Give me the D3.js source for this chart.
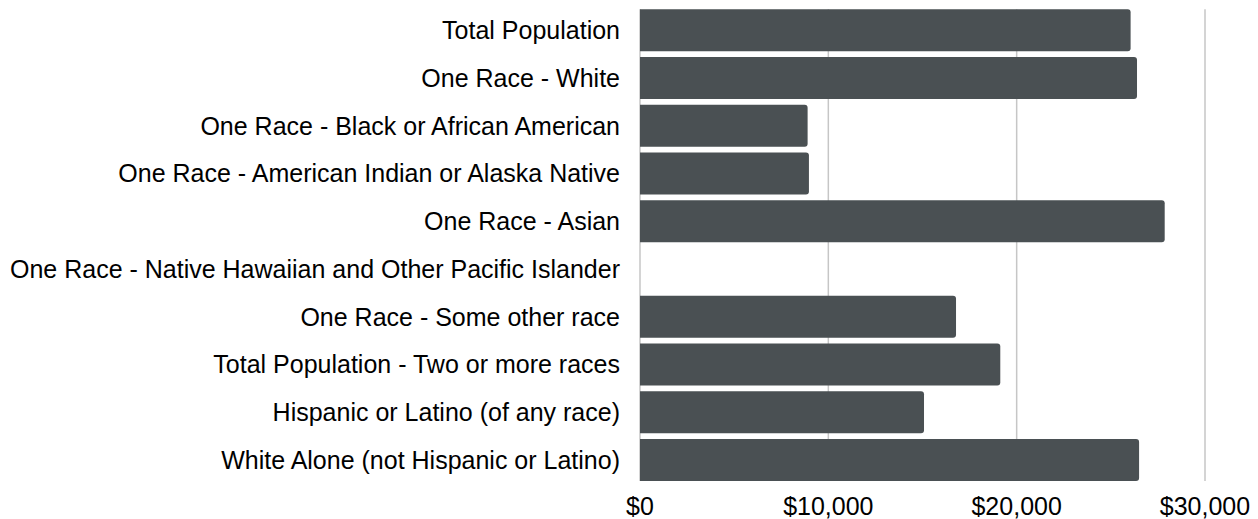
<!DOCTYPE html>
<html>
<head>
<meta charset="utf-8">
<script src="https://cdn.jsdelivr.net/npm/d3@7"></script>
<style>
  body { margin: 0; background: #fff; }
  svg { font-family: "Liberation Sans", Arial, sans-serif; }
</style>
</head>
<body>
<svg id="chart" width="1258" height="519"></svg>
<script>
"use strict";

const categories = [
    "Total Population",
    "One Race - White",
    "One Race - Black or African American",
    "One Race - American Indian or Alaska Native",
    "One Race - Asian",
    "One Race - Native Hawaiian and Other Pacific Islander",
    "One Race - Some other race",
    "Total Population - Two or more races",
    "Hispanic or Latino (of any race)",
    "White Alone (not Hispanic or Latino)"
];
// per capita income (NHPI has no bar)
const incomes = [26050, 26390, 8900, 8970, 27860, null, 16780, 19130, 15080, 26500];
const tickValues = [0, 10000, 20000, 30000];

const svg = d3.select('#chart');

const x = d3.scaleLinear()
    .domain([0, 30000])
    .range([640, 1205]);

const y = d3.scaleBand()
    .domain(categories)
    .range([9.3, 481])
    .paddingInner(0.12)
    .paddingOuter(0);

// vertical gridlines
svg.append('g')
    .selectAll('line')
    .data(tickValues)
    .enter()
    .append('line')
    .attr('x1', (d) => x(d))
    .attr('x2', (d) => x(d))
    .attr('y1', 9.3)
    .attr('y2', 481)
    .attr('stroke', '#c6c6c6')
    .attr('stroke-width', 1.5);

// bars: square on the left, rounded on the right
const r = 3;
const barPath = (v, cat) => {
    const x0 = x(0);
    const x1 = x(v);
    const y0 = y(cat);
    const h = y.bandwidth();
    return `M${x0},${y0} H${x1 - r} Q${x1},${y0} ${x1},${y0 + r} V${y0 + h - r} Q${x1},${y0 + h} ${x1 - r},${y0 + h} H${x0} Z`;
};

const rows = categories.map((c, i) => ({ cat: c, value: incomes[i] }))
    .filter((d) => d.value !== null);

svg.append('g')
    .selectAll('path')
    .data(rows)
    .enter()
    .append('path')
    .attr('d', (d) => barPath(d.value, d.cat))
    .attr('fill', '#4a5053');

// category labels
svg.append('g')
    .selectAll('text')
    .data(categories)
    .enter()
    .append('text')
    .attr('x', 620)
    .attr('y', (d) => y(d) + y.bandwidth() / 2)
    .attr('dy', '0.35em')
    .attr('text-anchor', 'end')
    .attr('font-size', '25px')
    .attr('fill', '#000')
    .text((d) => d);

// x axis tick labels
const fmt = d3.format('$,');
svg.append('g')
    .selectAll('text')
    .data(tickValues)
    .enter()
    .append('text')
    .attr('x', (d) => x(d))
    .attr('y', 515)
    .attr('text-anchor', 'middle')
    .attr('font-size', '25px')
    .attr('fill', '#000')
    .text((d) => fmt(d));
</script>
</body>
</html>
